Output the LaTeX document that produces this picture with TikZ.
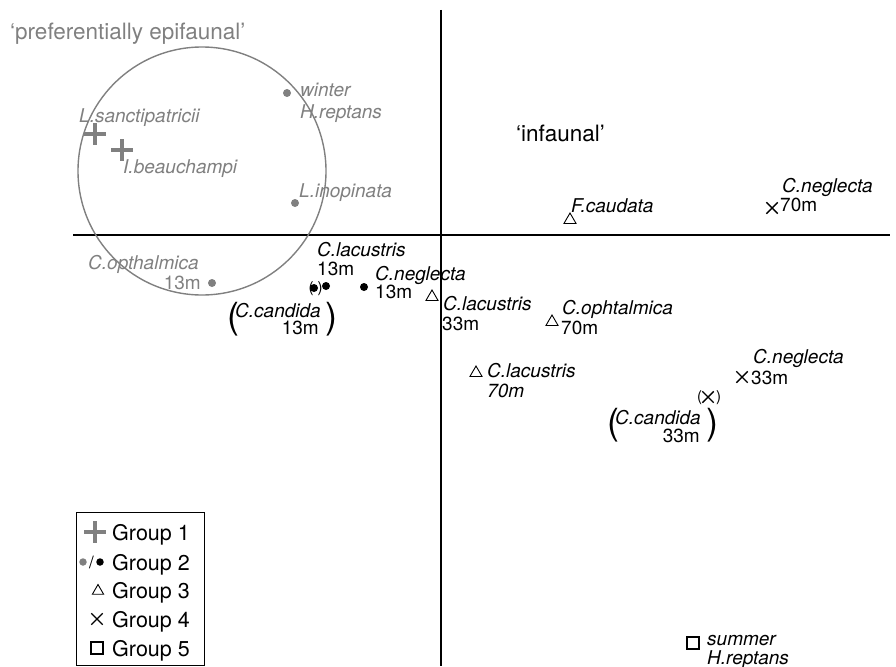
\documentclass[tikz,border=0pt]{standalone}
\usepackage{fontspec}
\setmainfont{TeX Gyre Heros}
\usetikzlibrary{shapes.geometric,shapes.misc}
\definecolor{epigray}{RGB}{128,128,128}
\begin{document}
\begin{tikzpicture}[x=1pt,y=-1pt,
  lab/.style={inner sep=0pt, anchor=base west, font=\fontsize{19}{21}\selectfont},
  nm/.style={inner sep=0pt, anchor=base west, font=\fontsize{19}{21}\selectfont\itshape},
  big/.style={inner sep=0pt, anchor=base west, font=\fontsize{22.5}{24}\selectfont},
  leg/.style={inner sep=0pt, anchor=base west, font=\fontsize{21.5}{23}\selectfont},
  paren/.style={inner sep=0pt, anchor=base west, font=\fontsize{36}{36}\selectfont},
  sparen/.style={inner sep=0pt, anchor=base west, font=\fontsize{15}{15}\selectfont},
  tri/.style={draw, regular polygon, regular polygon sides=3, minimum size=14pt, inner sep=0pt, line width=0.9pt},
  xmk/.style={draw, cross out, minimum size=10pt, inner sep=0pt, line width=1.4pt},
  sqmk/.style={draw, rectangle, minimum size=12pt, inner sep=0pt, line width=1.3pt},
  dotmk/.style={circle, fill, minimum size=8pt, inner sep=0pt},
  plusmk/.style={draw=epigray, cross out, rotate=45, minimum size=12pt, inner sep=0pt, line width=3.5pt},
  axis/.style={line width=1.1pt}]
\useasboundingbox (0,0) rectangle (896,666);

% axes
\coordinate (vtop) at (441,10);
\coordinate (vbot) at (441,666);
\coordinate (hl) at (73,235);
\coordinate (hr) at (890,235);
\draw[axis] (vtop) -- (vbot);
\draw[axis] (hl) -- (hr);

% circle of epifaunal group
\draw[epigray, line width=1.4pt] (202,171) circle[radius=124];

% headings
\node[big, text=epigray] (epi) at (10,40) {`preferentially epifaunal'};
\node[big] (inf) at (516,141) {`infaunal'};

% group 1 (gray plus)
\node[plusmk] (ls) at (95,134) {};
\node[plusmk] (ib) at (122,150) {};
\node[nm, text=epigray] (lst) at (79,122) {L.sanctipatricii};
\node[nm, text=epigray] (ibt) at (123,173) {I.beauchampi};

% gray dots
\node[dotmk, fill=epigray] (wh) at (287,93) {};
\node[nm, text=epigray] (wht1) at (300,97) {winter};
\node[nm, text=epigray] (wht2) at (300,118) {H.reptans};
\node[dotmk, fill=epigray] (li) at (295,203) {};
\node[nm, text=epigray] (lit) at (299,197) {L.inopinata};
\node[dotmk, fill=epigray] (co) at (212,283) {};
\node[nm, text=epigray] (cot1) at (88,269) {C.opthalmica};
\node[lab, text=epigray, anchor=base east] (cot2) at (201,289) {13m};

% black dots
\node[dotmk] (cc13) at (314,288) {};
\node[dotmk] (cl13) at (326,286) {};
\node[sparen] (cc13a) at (308.5,292) {(};
\node[sparen] (cc13b) at (317.5,292) {)};
\node[nm] (cl13t1) at (317,256) {C.lacustris};
\node[lab] (cl13t2) at (317,275) {13m};
\node[dotmk] (cn13) at (364,287) {};
\node[nm] (cn13t1) at (375,280) {C.neglecta};
\node[lab] (cn13t2) at (375,298) {13m};
\node[paren] (cc13p1) at (227,328) {(};
\node[nm] (cc13t1) at (235,317) {C.candida};
\node[lab, anchor=base east] (cc13t2) at (319,334) {13m};
\node[paren] (cc13p2) at (325,328) {)};

% group 3 triangles
\node[tri] (cl33) at (432,297) {};
\node[nm] (cl33t1) at (443,310) {C.lacustris};
\node[lab] (cl33t2) at (442,330) {33m};
\node[tri] (cop70) at (552,322) {};
\node[nm] (cop70t1) at (562,314) {C.ophtalmica};
\node[lab] (cop70t2) at (561,334) {70m};
\node[tri] (cl70) at (476,373) {};
\node[nm] (cl70t1) at (487,377) {C.lacustris};
\node[nm] (cl70t2) at (487,397) {70m};
\node[tri] (fc) at (570,220) {};
\node[nm] (fct) at (571,212) {F.caudata};

% group 4 crosses
\node[xmk] (cn70) at (772,208) {};
\node[nm] (cn70t1) at (782,192) {C.neglecta};
\node[lab] (cn70t2) at (780,211) {70m};
\node[xmk] (cn33) at (742,377) {};
\node[nm] (cn33t1) at (753,363) {C.neglecta};
\node[lab] (cn33t2) at (751,384) {33m};
\node[xmk] (cc33) at (708,397) {};
\node[sparen] (cc33a) at (697,401) {(};
\node[sparen] (cc33b) at (716,401) {)};
\node[paren] (cc33p1) at (607,434) {(};
\node[nm] (cc33t1) at (615,424) {C.candida};
\node[lab, anchor=base east] (cc33t2) at (700,442) {33m};
\node[paren] (cc33p2) at (706,434) {)};

% group 5
\node[sqmk] (sh) at (693,643) {};
\node[nm] (sht1) at (707,645) {summer};
\node[nm] (sht2) at (707,664) {H.reptans};

% legend
\node[draw, line width=1.2pt, minimum width=128pt, minimum height=153pt, anchor=north west, inner sep=0pt] (legend) at (76,512) {};
\node[plusmk] (lg1) at (95,532) {};
\node[leg] (lg1t) at (112,540) {Group 1};
\node[dotmk, fill=epigray, minimum size=7.5pt] (lg2a) at (83,562) {};
\node[inner sep=0pt, font=\fontsize{17}{17}\selectfont] (lg2s) at (91.5,562) {/};
\node[dotmk, minimum size=7.5pt] (lg2b) at (100,562) {};
\node[leg] (lg2t) at (112,570) {Group 2};
\node[tri, minimum size=13pt] (lg3) at (98,591) {};
\node[leg] (lg3t) at (112,598) {Group 3};
\node[xmk] (lg4) at (97,619) {};
\node[leg] (lg4t) at (112,627) {Group 4};
\node[sqmk] (lg5) at (97,648) {};
\node[leg] (lg5t) at (112,656) {Group 5};
\end{tikzpicture}
\end{document}
